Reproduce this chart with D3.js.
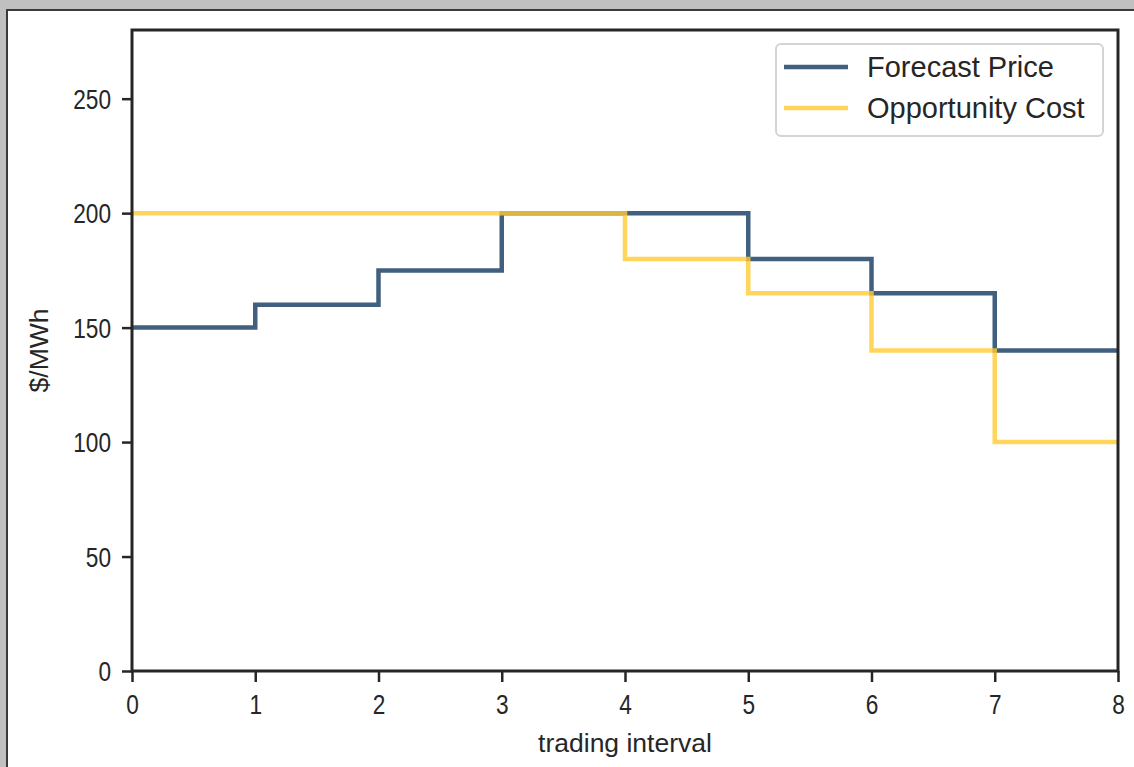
<!DOCTYPE html>
<html><head><meta charset="utf-8">
<script src="https://cdn.jsdelivr.net/npm/d3@7"></script>
<style>
html,body{margin:0;padding:0;background:#c0c0c0;}
svg{display:block;font-family:"Liberation Sans",Arial,sans-serif;}
</style></head>
<body>
<svg id="chart" width="1134" height="767"></svg>
<script>
const intervals = [0,1,2,3,4,5,6,7,8];
const forecastPrice = [150,160,175,200,200,180,165,140,140];
const opportunityCost = [200,200,200,200,180,165,140,100,100];
const xTicks = [0,1,2,3,4,5,6,7,8];
const yTicks = [0,50,100,150,200,250];
const seriesNames = ["Forecast Price","Opportunity Cost"];

const svg = d3.select("#chart");
// figure panel
svg.append("rect").attr("x",7).attr("y",10).attr("width",1127).attr("height",757).attr("fill","#fff");
svg.append("line").attr("x1",7).attr("x2",7).attr("y1",9).attr("y2",767).attr("stroke","#3a3a3a").attr("stroke-width",2);
svg.append("line").attr("x1",6).attr("x2",1134).attr("y1",10).attr("y2",10).attr("stroke","#3a3a3a").attr("stroke-width",2);

const L=132,R=1118,T=30,B=671;
const x = d3.scaleLinear().domain([0,8]).range([L,R]);
const y = d3.scaleLinear().domain([0,280]).range([B,T]);

const line = d3.line().x((d,i)=>x(intervals[i])).y(d=>y(d)).curve(d3.curveStepAfter);

svg.append("path").datum(forecastPrice).attr("d",line).attr("fill","none")
  .attr("stroke","#11385f").attr("stroke-opacity",0.8).attr("stroke-width",4.5);
svg.append("path").datum(opportunityCost).attr("d",line).attr("fill","none")
  .attr("stroke","#ffca33").attr("stroke-opacity",0.8).attr("stroke-width",4.5);

// axes
const xAxis = svg.append("g").attr("transform",`translate(0,${B})`)
  .call(d3.axisBottom(x).tickValues(xTicks).tickFormat(d3.format("d")).tickSize(11).tickSizeOuter(0));
const yAxis = svg.append("g").attr("transform",`translate(${L},0)`)
  .call(d3.axisLeft(y).tickValues(yTicks).tickFormat(d3.format("d")).tickSize(10).tickSizeOuter(0));
const sx = 0.84;
[xAxis,yAxis].forEach(g=>{
  g.select(".domain").remove();
  g.selectAll(".tick line").attr("stroke","#262626").attr("stroke-width",2.5);
  g.selectAll(".tick text").attr("fill","#262626").style("font-size","27px")
   .style("font-family","'Liberation Sans',Arial,sans-serif");
});
xAxis.selectAll(".tick text").attr("y",24).attr("dy","0.71em").attr("transform",`scale(${sx},1)`);
yAxis.selectAll(".tick text").attr("x",-21/sx).attr("dy","0.36em").attr("transform",`scale(${sx},1)`);

// spines
svg.append("rect").attr("x",L).attr("y",T).attr("width",R-L).attr("height",B-T)
  .attr("fill","none").attr("stroke","#262626").attr("stroke-width",3);

// labels
svg.append("text").attr("x",(L+R)/2).attr("y",752).attr("text-anchor","middle")
  .attr("fill","#262626").style("font-size","26.5px").text("trading interval");
svg.append("text").attr("transform",`translate(48,${(T+B)/2}) rotate(-90)`).attr("text-anchor","middle")
  .attr("fill","#262626").style("font-size","26.5px").text("$/MWh");

// legend
const lg = svg.append("g");
lg.append("rect").attr("x",776).attr("y",44).attr("width",327).attr("height",92).attr("rx",5)
  .attr("fill","#fff").attr("fill-opacity",0.8).attr("stroke","#d4d4d4").attr("stroke-width",2);
const colors = ["#11385f","#ffca33"];
seriesNames.forEach((n,i)=>{
  const yy = 67 + i*41;
  lg.append("line").attr("x1",784).attr("x2",848).attr("y1",yy).attr("y2",yy)
    .attr("stroke",colors[i]).attr("stroke-opacity",0.8).attr("stroke-width",4.5);
  lg.append("text").attr("x",867).attr("y",yy).attr("dy","0.36em").attr("fill","#262626")
    .style("font-size","29px").text(n);
});
</script>
</body></html>
